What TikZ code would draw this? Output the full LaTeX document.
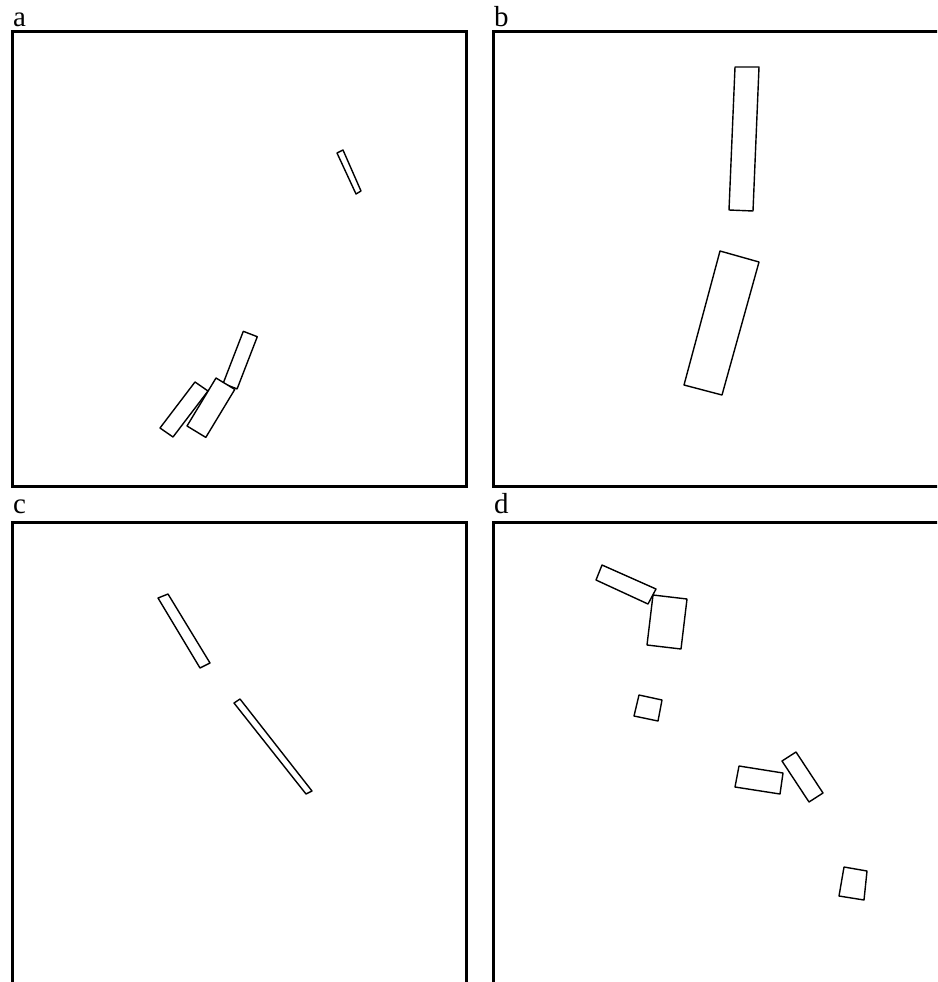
\documentclass[tikz,border=0pt]{standalone}
\usepackage{fontspec}
\setmainfont{Liberation Serif}
\begin{document}
\begin{tikzpicture}[x=1pt,y=-1pt,
  panel/.style={line width=3pt},
  block/.style={line width=1.4pt,fill=white,line join=round}]
  \useasboundingbox (0,0) rectangle (937,982);
  \clip (0,0) rectangle (937,982);
  % panel frames and letters
  \foreach \px/\py/\ph/\ly/\ptext in {12/32/454/27/a,493/32/454/27/b,12/522/480/513/c,493/522/480/513/d}{
    \draw[panel] (\px,\py) rectangle ++(454,\ph);
    \node[anchor=base west,inner sep=0pt,font=\fontsize{29}{32}\selectfont] (lab\ptext) at (\px+1,\ly) {\ptext};
  }
  % panel a
  \draw[block] (337,153) -- (343,150) -- (361,191) -- (356,194) -- cycle;
  \draw[block] (243.3,331.3) -- (257.3,336.7) -- (237.1,388.9) -- (223.1,383.5) -- cycle;
  \draw[block] (195,382) -- (208,391) -- (173,437) -- (160,428) -- cycle;
  \draw[block] (216,378) -- (234.8,389.4) -- (205.8,437.4) -- (187,426) -- cycle;
  % panel b
  \draw[block] (735,67) -- (759,67) -- (753,211) -- (729,210) -- cycle;
  \draw[block] (720,251) -- (759,262) -- (722,395) -- (684,385) -- cycle;
  % panel c
  \draw[block] (158,598) -- (168,594) -- (210,663) -- (200,668) -- cycle;
  \draw[block] (234,703) -- (240,699) -- (312,791) -- (306,794) -- cycle;
  % panel d
  \draw[block] (602,565) -- (656,589) -- (648,604) -- (596,580) -- cycle;
  \draw[block] (653,595) -- (687,599) -- (681,649) -- (647,645) -- cycle;
  \draw[block] (639,695) -- (662,700) -- (658,721) -- (634,716) -- cycle;
  \draw[block] (739,766) -- (783,773) -- (780,794) -- (735,787) -- cycle;
  \draw[block] (796,752) -- (823,793) -- (809,802) -- (782,761) -- cycle;
  \draw[block] (844,867) -- (867,871) -- (864,900) -- (839,896) -- cycle;
\end{tikzpicture}
\end{document}
